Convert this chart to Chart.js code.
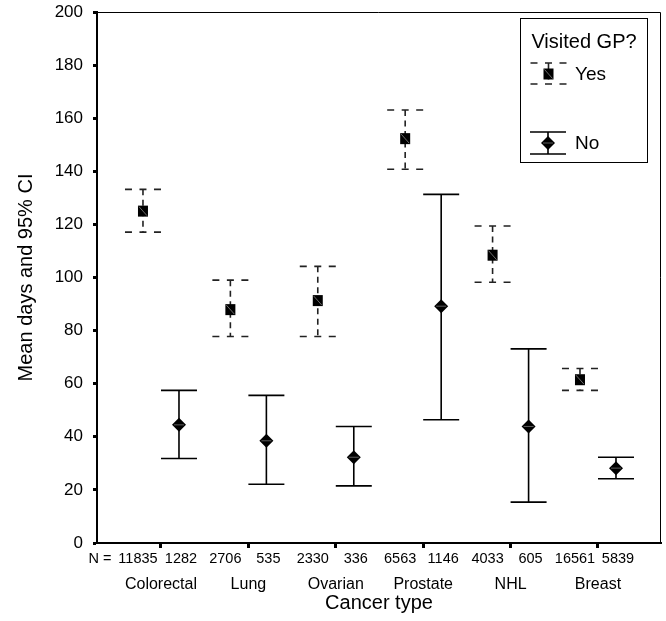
<!DOCTYPE html>
<html><head><meta charset="utf-8">
<script src="https://cdn.jsdelivr.net/npm/chart.js@4.4.0/dist/chart.umd.min.js"></script>
<style>html,body{margin:0;padding:0;background:#fff}#wrap{width:666px;height:621px}</style>
</head><body><div id="wrap"><canvas id="c" width="666" height="621"></canvas></div>
<script>
const categories = ['Colorectal', 'Lung', 'Ovarian', 'Prostate', 'NHL', 'Breast'];
const nYes = [11835, 2706, 2330, 6563, 4033, 16561];
const nNo = [1282, 535, 336, 1146, 605, 5839];
const yesMean = [125.0, 87.9, 91.3, 152.3, 108.4, 61.5];
const yesLow  = [117.1, 77.8, 77.8, 140.8, 98.2, 57.5];
const yesHigh = [133.2, 99.0, 104.2, 163.1, 119.4, 65.7];
const noMean = [44.5, 38.5, 32.3, 89.2, 43.9, 28.2];
const noLow  = [31.8, 22.1, 21.5, 46.4, 15.4, 24.2];
const noHigh = [57.5, 55.6, 43.9, 131.3, 73.1, 32.3];
const yTicks = [0, 20, 40, 60, 80, 100, 120, 140, 160, 180, 200];

const FONT = '"Liberation Sans", Arial, Helvetica, sans-serif';
const OFF = 0.206;
const CAP = 18;

function dashedCap(ctx, x, y) {
  ctx.save();
  ctx.setLineDash([7, 7.5]);
  ctx.beginPath(); ctx.moveTo(x - CAP, y); ctx.lineTo(x + CAP, y); ctx.stroke();
  ctx.restore();
}
function drawYesBar(ctx, x, yTop, yBot) {
  ctx.save();
  ctx.strokeStyle = '#222'; ctx.lineWidth = 1.6;
  ctx.setLineDash([6, 4.5]);
  ctx.beginPath(); ctx.moveTo(x, yTop); ctx.lineTo(x, yBot); ctx.stroke();
  ctx.restore();
  ctx.save(); ctx.strokeStyle = '#222'; ctx.lineWidth = 1.6;
  dashedCap(ctx, x, yTop); dashedCap(ctx, x, yBot);
  ctx.restore();
}
function drawNoBar(ctx, x, yTop, yBot) {
  ctx.save();
  ctx.strokeStyle = '#000'; ctx.lineWidth = 1.6;
  ctx.beginPath();
  ctx.moveTo(x, yTop); ctx.lineTo(x, yBot);
  ctx.moveTo(x - CAP, yTop); ctx.lineTo(x + CAP, yTop);
  ctx.moveTo(x - CAP, yBot); ctx.lineTo(x + CAP, yBot);
  ctx.stroke();
  ctx.restore();
}
function square(ctx, x, y) {
  ctx.save();
  ctx.fillStyle = '#000'; ctx.fillRect(x - 5, y - 5.5, 10, 11);
  ctx.strokeStyle = '#888'; ctx.lineWidth = 0.8;
  ctx.beginPath(); ctx.moveTo(x - 4, y - 4.5); ctx.lineTo(x + 4, y + 4.5); ctx.stroke();
  ctx.restore();
}
function diamond(ctx, x, y) {
  ctx.save();
  ctx.fillStyle = '#000';
  ctx.beginPath(); ctx.moveTo(x - 7, y); ctx.lineTo(x, y - 7); ctx.lineTo(x + 7, y); ctx.lineTo(x, y + 7); ctx.closePath(); ctx.fill();
  ctx.strokeStyle = '#777'; ctx.lineWidth = 0.8;
  ctx.beginPath(); ctx.moveTo(x - 5, y); ctx.lineTo(x + 5, y); ctx.stroke();
  ctx.restore();
}

const errorBars = {
  id: 'errorBars',
  beforeDatasetsDraw(chart) {
    const ctx = chart.ctx, xs = chart.scales.x, ys = chart.scales.y;
    categories.forEach((c, i) => {
      drawYesBar(ctx, xs.getPixelForValue(i - OFF), ys.getPixelForValue(yesHigh[i]), ys.getPixelForValue(yesLow[i]));
      drawNoBar(ctx, xs.getPixelForValue(i + OFF), ys.getPixelForValue(noHigh[i]), ys.getPixelForValue(noLow[i]));
    });
  },
  afterDatasetsDraw(chart) {
    const ctx = chart.ctx;
    const a = chart.chartArea;
    ctx.save();
    ctx.strokeStyle = '#000'; ctx.lineWidth = 1;
    ctx.beginPath();
    ctx.moveTo(a.left, a.top + 0.5); ctx.lineTo(a.right - 0.5, a.top + 0.5); ctx.lineTo(a.right - 0.5, a.bottom);
    ctx.stroke();
    ctx.restore();
  },
  afterDraw(chart) {
    const ctx = chart.ctx, xs = chart.scales.x;
    // N labels
    ctx.save();
    ctx.fillStyle = '#000';
    ctx.font = '14.5px ' + FONT;
    ctx.textBaseline = 'middle';
    ctx.textAlign = 'center';
    const yN = 559;
    categories.forEach((c, i) => {
      ctx.fillText(String(nYes[i]), xs.getPixelForValue(i - OFF) - 5, yN);
      ctx.fillText(String(nNo[i]), xs.getPixelForValue(i + OFF) + 2, yN);
    });
    ctx.textAlign = 'right';
    const w0 = ctx.measureText(String(nYes[0])).width;
    ctx.fillText('N =', xs.getPixelForValue(0 - OFF) - 5 - w0 / 2 - 7, yN);
    ctx.restore();

    // Legend
    ctx.save();
    ctx.strokeStyle = '#000'; ctx.lineWidth = 1;
    ctx.strokeRect(520.5, 18.5, 127, 144);
    ctx.fillStyle = '#000';
    ctx.font = '20px ' + FONT;
    ctx.textBaseline = 'middle';
    ctx.textAlign = 'center';
    ctx.fillText('Visited GP?', 584, 42);
    ctx.textAlign = 'left';
    ctx.font = '19px ' + FONT;
    drawYesBar(ctx, 548.5, 63, 84);
    square(ctx, 548.5, 74);
    ctx.fillText('Yes', 575, 75);
    drawNoBar(ctx, 548, 132, 154);
    diamond(ctx, 548, 143);
    ctx.fillText('No', 575, 144);
    ctx.restore();
  }
};

const markerPlugin = {
  id: 'markers',
  afterDatasetsDraw(chart) {
    const ctx = chart.ctx;
    chart.getDatasetMeta(0).data.forEach(p => square(ctx, p.x, p.y));
    chart.getDatasetMeta(1).data.forEach(p => diamond(ctx, p.x, p.y));
  }
};

new Chart(document.getElementById('c'), {
  type: 'scatter',
  data: {
    datasets: [
      { label: 'Yes', data: categories.map((c, i) => ({ x: i - OFF, y: yesMean[i] })), pointRadius: 0, showLine: false },
      { label: 'No', data: categories.map((c, i) => ({ x: i + OFF, y: noMean[i] })), pointRadius: 0, showLine: false }
    ]
  },
  options: {
    responsive: false,
    animation: false,
    devicePixelRatio: 1,
    layout: { padding: { top: 12, right: 5, left: 0, bottom: 0 } },
    plugins: { legend: { display: false }, tooltip: { enabled: false } },
    scales: {
      x: {
        type: 'linear', min: -0.732, max: 5.721,
        afterBuildTicks(scale) { scale.ticks = categories.map((c, i) => ({ value: i })); },
        afterFit(scale) { scale.height = 78; scale.paddingLeft = 0; scale.paddingRight = 0; },
        ticks: {
          callback: (v) => categories[Math.round(v)],
          font: { family: FONT, size: 16 }, color: '#000', padding: 27, maxRotation: 0, autoSkip: false
        },
        grid: { drawOnChartArea: false, drawTicks: true, tickLength: 5, tickWidth: 3, tickColor: '#000' },
        border: { display: true, color: '#000', width: 2 },
        title: { display: true, text: 'Cancer type', color: '#000', font: { family: FONT, size: 20 }, padding: { top: 0, bottom: 6 } }
      },
      y: {
        type: 'linear', min: 0, max: 200,
        afterBuildTicks(scale) { scale.ticks = yTicks.map(v => ({ value: v })); },
        afterFit(scale) { scale.width = 97; scale.paddingTop = 0; scale.paddingBottom = 0; },
        ticks: { font: { family: FONT, size: 17 }, color: '#000', padding: 10 },
        grid: { drawOnChartArea: false, drawTicks: true, tickLength: 4, tickWidth: 3, tickColor: '#000' },
        border: { display: true, color: '#000', width: 2 },
        title: { display: true, text: 'Mean days and 95% CI', color: '#000', font: { family: FONT, size: 20 }, padding: { top: 14, bottom: 0 } }
      }
    }
  },
  plugins: [errorBars, markerPlugin]
});
</script></body></html>
